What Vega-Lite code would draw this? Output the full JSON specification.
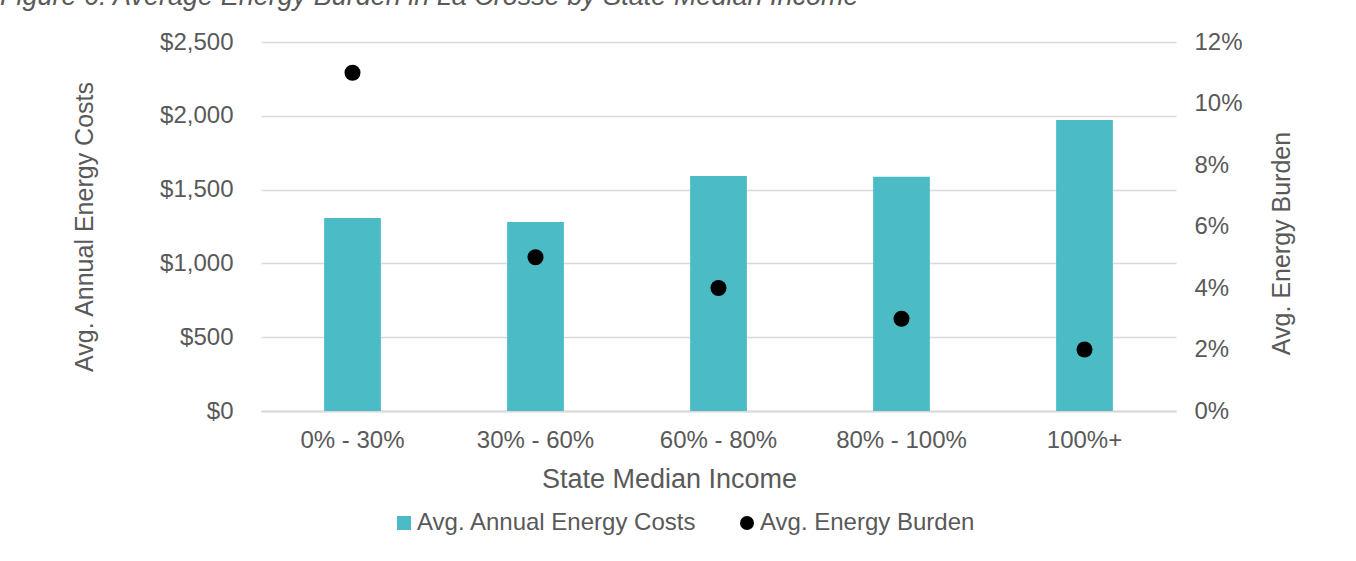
{
  "$schema": "https://vega.github.io/schema/vega-lite/v6.json",
  "width": 915,
  "height": 369,
  "autosize": {"type": "none"},
  "padding": {"left": 261, "top": 42, "right": 180, "bottom": 150},
  "background": "white",
  "title": {
    "text": "Figure 6: Average Energy Burden in La Crosse by State Median Income",
    "anchor": "start",
    "frame": "group",
    "dx": -261,
    "dy": 3,
    "offset": 22,
    "font": "Liberation Sans",
    "fontSize": 27,
    "fontStyle": "italic",
    "fontWeight": "normal",
    "color": "#595959"
  },
  "config": {
    "font": "Liberation Sans",
    "view": {"stroke": null},
    "axis": {
      "labelFont": "Liberation Sans",
      "titleFont": "Liberation Sans",
      "labelColor": "#595959",
      "titleColor": "#595959",
      "titleFontWeight": "normal",
      "ticks": false
    }
  },
  "data": {
    "values": [
      {"income": "0% - 30%", "cost": 1307, "burden": 0.11},
      {"income": "30% - 60%", "cost": 1280, "burden": 0.05},
      {"income": "60% - 80%", "cost": 1592, "burden": 0.04},
      {"income": "80% - 100%", "cost": 1587, "burden": 0.03},
      {"income": "100%+", "cost": 1972, "burden": 0.02}
    ]
  },
  "encoding": {
    "x": {
      "field": "income",
      "type": "nominal",
      "sort": null,
      "scale": {"paddingInner": 0.69, "paddingOuter": 0.345},
      "axis": {
        "title": "State Median Income",
        "labelAngle": 0,
        "labelFontSize": 24,
        "titleFontSize": 27,
        "labelPadding": 17,
        "titlePadding": 14,
        "titleX": 408,
        "domainColor": "#d9d9d9",
        "domainWidth": 2,
        "grid": false
      }
    }
  },
  "layer": [
    {
      "mark": {"type": "bar", "color": "#4BBBC6"},
      "encoding": {
        "y": {
          "field": "cost",
          "type": "quantitative",
          "scale": {"domain": [0, 2500]},
          "axis": {
            "title": "Avg. Annual Energy Costs",
            "orient": "left",
            "values": [0, 500, 1000, 1500, 2000, 2500],
            "format": "$,.0f",
            "labelFontSize": 24,
            "titleFontSize": 25,
            "labelPadding": 28,
            "titlePadding": 62,
            "domain": false,
            "grid": true,
            "gridColor": "#d9d9d9",
            "gridWidth": 1.5
          }
        },
        "color": {
          "datum": "Avg. Annual Energy Costs",
          "scale": {
            "domain": ["Avg. Annual Energy Costs", "Avg. Energy Burden"],
            "range": ["#4BBBC6", "#000000"]
          },
          "legend": {
            "title": null,
            "orient": "none",
            "direction": "horizontal",
            "legendX": 131,
            "legendY": 469,
            "labelFontSize": 24,
            "labelColor": "#595959",
            "labelFont": "Liberation Sans",
            "labelLimit": 0,
            "symbolSize": 196,
            "labelOffset": 1,
            "columnPadding": 38
          }
        }
      }
    },
    {
      "mark": {"type": "point", "filled": true, "opacity": 1, "size": 256},
      "encoding": {
        "y": {
          "field": "burden",
          "type": "quantitative",
          "scale": {"domain": [0, 0.12]},
          "axis": {
            "title": "Avg. Energy Burden",
            "orient": "right",
            "values": [0, 0.02, 0.04, 0.06, 0.08, 0.1, 0.12],
            "format": ".0%",
            "labelFontSize": 24,
            "titleFontSize": 25,
            "titleAngle": 270,
            "titleY": 201,
            "labelPadding": 18,
            "titlePadding": 52,
            "domain": false,
            "grid": false
          }
        },
        "color": {"datum": "Avg. Energy Burden"},
        "shape": {
          "datum": "Avg. Energy Burden",
          "scale": {
            "domain": ["Avg. Annual Energy Costs", "Avg. Energy Burden"],
            "range": ["square", "circle"]
          },
          "legend": {
            "title": null,
            "orient": "none",
            "direction": "horizontal",
            "legendX": 131,
            "legendY": 469,
            "labelFontSize": 24,
            "labelColor": "#595959",
            "labelFont": "Liberation Sans",
            "labelLimit": 0,
            "symbolSize": 196,
            "labelOffset": 1,
            "columnPadding": 38
          }
        }
      }
    }
  ],
  "resolve": {"scale": {"y": "independent"}}
}
